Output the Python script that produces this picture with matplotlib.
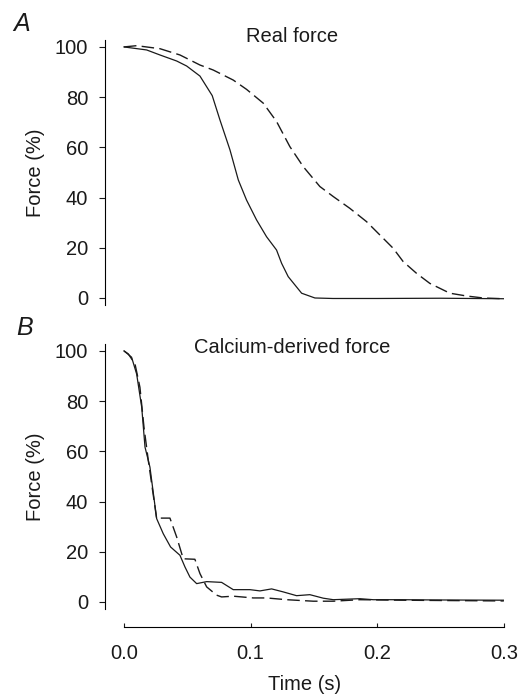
import matplotlib
matplotlib.use("Agg")
import matplotlib.pyplot as plt

plt.rcParams['font.family'] = ['Liberation Sans', 'DejaVu Sans']
plt.rcParams['lines.scale_dashes'] = False

# Panel A: real force
t_real_solid = [0.0, 0.0179, 0.0284, 0.0416, 0.0495, 0.060, 0.0697, 0.0758, 0.0837,
                0.0903, 0.0968, 0.1047, 0.1126, 0.1205, 0.1245, 0.1297, 0.1403,
                0.1508, 0.165, 0.20, 0.25, 0.30]
f_real_solid = [100, 98.8, 96.8, 94.4, 92.4, 88.4, 80.6, 70.9, 59.0,
                47.0, 39.0, 31.1, 24.4, 19.1, 13.8, 8.5, 1.9,
                0.0, -0.2, -0.2, -0.1, -0.3]
t_real_dash = [0.0, 0.010, 0.0284, 0.0442, 0.060, 0.0705, 0.0863, 0.0968, 0.110,
               0.1205, 0.131, 0.1416, 0.1547, 0.1653, 0.1784, 0.1916, 0.2021,
               0.2126, 0.2205, 0.2311, 0.2416, 0.2574, 0.2705, 0.2837, 0.30]
f_real_dash = [100, 100.5, 99.3, 96.8, 92.8, 90.8, 86.8, 83.1, 77.6,
               70.3, 60.3, 52.3, 44.4, 40.4, 35.7, 30.4, 25.1,
               19.8, 14.5, 9.8, 5.8, 1.9, 0.8, 0.0, -0.3]

# Panel B: calcium-derived force
t_ca_solid = [0.0, 0.006, 0.010, 0.014, 0.0166, 0.0205, 0.0258, 0.031, 0.0368,
              0.0442, 0.0482, 0.0521, 0.0574, 0.0653, 0.0771, 0.0863, 0.0995,
              0.1074, 0.1166, 0.1258, 0.1363, 0.1468, 0.1574, 0.1653, 0.1758,
              0.1863, 0.1968, 0.2179, 0.2442, 0.30]
f_ca_solid = [100, 97.5, 90.8, 77.6, 61.7, 53.7, 33.2, 27.2, 21.9,
              18.6, 13.9, 9.9, 7.3, 8.1, 7.8, 4.9, 4.9,
              4.4, 5.2, 4.0, 2.5, 2.9, 1.5, 0.9, 1.1,
              1.3, 0.9, 0.9, 0.8, 0.7]
t_ca_dash = [0.0, 0.0034, 0.0087, 0.0126, 0.0158, 0.0192, 0.0258, 0.0284, 0.0363,
             0.0416, 0.0468, 0.056, 0.060, 0.0653, 0.0732, 0.0771, 0.0863,
             0.1021, 0.1126, 0.1284, 0.1495, 0.1653, 0.1863, 0.2179, 0.30]
f_ca_dash = [100, 98.8, 94.8, 85.5, 69.6, 56.4, 33.2, 33.4, 33.4,
             25.9, 17.2, 17.0, 11.3, 6.0, 2.7, 2.0, 2.3,
             1.6, 1.6, 0.9, 0.3, 0.3, 0.9, 0.7, 0.4]

yticks = [0, 20, 40, 60, 80, 100]
xticks = [0.0, 0.1, 0.2, 0.3]
xticklabels = ['0.0', '0.1', '0.2', '0.3']

ink = '#1a1a1a'
fs = 14.5

fig = plt.figure(figsize=(5.2, 6.94), dpi=100)
axA = fig.add_axes([0.2019, 0.5605, 0.767, 0.382])
axB = fig.add_axes([0.2019, 0.1225, 0.767, 0.382])

dash = (0, (9, 3.8))
for ax, ts, ys, td, yd in [(axA, t_real_solid, f_real_solid, t_real_dash, f_real_dash),
                           (axB, t_ca_solid, f_ca_solid, t_ca_dash, f_ca_dash)]:
    ax.plot(ts, ys, color=ink, lw=0.9)
    ax.plot(td, yd, color=ink, lw=1.0, linestyle=dash)
    ax.set_xlim(-0.015, 0.3)
    ax.set_ylim(-2.8, 102.8)
    ax.set_yticks(yticks)
    ax.set_yticklabels([str(v) for v in yticks])
    ax.tick_params(axis='y', direction='out', length=4, width=0.8, pad=8,
                   labelsize=fs, colors=ink)
    ax.set_ylabel('Force (%)', fontsize=fs, color=ink, labelpad=7)
    for s in ['top', 'right']:
        ax.spines[s].set_visible(False)
    ax.spines['left'].set_linewidth(0.8)

axA.spines['bottom'].set_visible(False)
axA.set_xticks([])

axB.spines['bottom'].set_position(('outward', 13))
axB.spines['bottom'].set_bounds(0.0, 0.3)
axB.spines['bottom'].set_linewidth(0.8)
axB.set_xticks(xticks)
axB.set_xticklabels(xticklabels)
axB.tick_params(axis='x', direction='in', length=3, width=0.8, pad=12,
                labelsize=fs, colors=ink)
axB.set_xlabel('Time (s)', fontsize=fs, color=ink, labelpad=9)

axA.text(0.1326, 104, 'Real force', ha='center', va='center', fontsize=fs,
         color=ink, clip_on=False)
axB.text(0.1326, 101.2, 'Calcium-derived force', ha='center', va='center',
         fontsize=fs, color=ink, clip_on=False)

fig.text(0.042, 0.966, 'A', fontsize=18, style='italic', ha='center', va='center',
         color=ink)
fig.text(0.048, 0.527, 'B', fontsize=18, style='italic', ha='center', va='center',
         color=ink)

fig.savefig('out.png', dpi=100)
